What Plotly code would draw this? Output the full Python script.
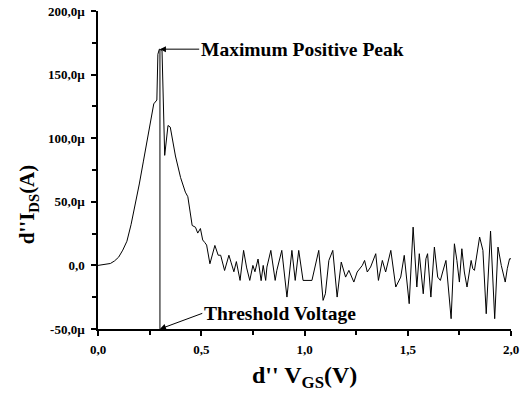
import plotly.graph_objects as go

# d''V_GS (V)
vgs = [0.0, 0.03, 0.06, 0.08, 0.10, 0.12, 0.14, 0.16, 0.18, 0.20, 0.22, 0.24, 0.26, 0.27, 0.285,
       0.29, 0.297, 0.31, 0.323, 0.339, 0.35, 0.375, 0.40, 0.423, 0.435, 0.456, 0.472, 0.483,
       0.496, 0.507, 0.517, 0.526, 0.542, 0.566, 0.582, 0.594, 0.613, 0.634, 0.645, 0.658,
       0.67, 0.688, 0.705, 0.72, 0.735, 0.75, 0.76, 0.775, 0.79, 0.80, 0.812, 0.818, 0.837,
       0.858, 0.866, 0.890, 0.915, 0.939, 0.955, 0.972, 0.993, 1.012, 1.036, 1.069, 1.090,
       1.101, 1.118, 1.137, 1.158, 1.178, 1.199, 1.215, 1.239, 1.255, 1.280, 1.291, 1.304,
       1.320, 1.345, 1.358, 1.377, 1.393, 1.418, 1.442, 1.466, 1.483, 1.507, 1.526, 1.544,
       1.556, 1.575, 1.588, 1.596, 1.612, 1.629, 1.645, 1.658, 1.669, 1.685, 1.710, 1.726,
       1.738, 1.750, 1.762, 1.774, 1.787, 1.807, 1.815, 1.823, 1.848, 1.864, 1.880, 1.901,
       1.921, 1.937, 1.953, 1.972, 1.982, 1.993, 2.0]
# d''I_DS (µA)
ids = [0.0, 0.5, 1.5, 3.5, 6.5, 12, 19, 32, 47, 64, 82, 100, 117, 127, 130,
       166, 170, 169, 86.5, 110, 108.7, 86, 69, 57.6, 54, 31.4, 30, 25.4,
       29, 20, 18, 16, 1.3, 15.7, 8, 8, -4, 8, 2, -5,
       3, -11.8, 11.8, -2, -11.8, 0, -5, 5, -12, 0, -11.8, -1.3, 11.8,
       -11.8, -3.9, 11.8, -24.9, 11.8, -11.8, 11.8, -11.8, -11.8, -11.8, 11.8, -27.5,
       -22.3, 3.9, 11.8, -24.9, 2.6, -9.2, -3.9, -13.1, -5.2, 0, 3.9, -5.2,
       -1.3, 9.2, -11.8, 3.9, -5.2, 11.8, -17, -9.2, 7.9, -30.1, 30.1, -17,
       9.2, -22.3, 5.2, 9.2, -24.9, 14.4, -9.2, -11.8, -5.2, 3.9, -41.9, 17,
       3.9, -13.1, 13.1, -5.2, -17, 3.9, -2.6, -3.9, 22.3, 11.8, -38, 27,
       -41.9, 14.4, 0, -13.1, -2.6, 5.2, 5.2]

threshold_v = 0.30
peak_i = 170
y_bottom = -50

y_ticks = [-50, 0, 50, 100, 150, 200]
y_ticktext = ["-50,0µ", "0,0", "50,0µ", "100,0µ", "150,0µ", "200,0µ"]
x_ticks = [0.0, 0.5, 1.0, 1.5, 2.0]
x_ticktext = ["0,0", "0,5", "1,0", "1,5", "2,0"]

FONT = "Liberation Serif"

fig = go.Figure()
fig.add_trace(go.Scatter(x=vgs, y=ids, mode="lines",
                         line=dict(color="black", width=1), showlegend=False))
fig.add_trace(go.Scatter(x=[threshold_v, threshold_v], y=[y_bottom, peak_i], mode="lines",
                         line=dict(color="black", width=1), showlegend=False))

fig.add_annotation(x=threshold_v, y=peak_i, ax=0.49, ay=peak_i, axref="x", ayref="y",
                   xref="x", yref="y", text="Maximum Positive Peak", xanchor="left",
                   showarrow=True, arrowhead=2, arrowsize=1.2, arrowwidth=1, arrowcolor="black",
                   font=dict(family=FONT, size=19.5, color="black", weight="bold"))
fig.add_annotation(x=threshold_v, y=y_bottom, ax=0.505, ay=-37.7, axref="x", ayref="y",
                   xref="x", yref="y", text="Threshold Voltage", xanchor="left",
                   showarrow=True, arrowhead=2, arrowsize=1.2, arrowwidth=1, arrowcolor="black",
                   font=dict(family=FONT, size=19.5, color="black", weight="bold"))

# axis titles
fig.add_annotation(x=0.5, y=-0.15, xref="paper", yref="paper", text="d'' V<sub>GS</sub>(V)",
                   showarrow=False, xanchor="center", yanchor="middle",
                   font=dict(family=FONT, size=24, color="black", weight="bold"))
fig.add_annotation(x=-0.169, y=0.39, xref="paper", yref="paper", text="d''I<sub>DS</sub>(A)",
                   showarrow=False, xanchor="center", yanchor="middle", textangle=-90,
                   font=dict(family=FONT, size=21, color="black", weight="bold"))

axis_common = dict(showline=True, linecolor="black", linewidth=1.5, ticks="outside",
                   ticklen=5, tickwidth=1.5, tickcolor="black", showgrid=False, zeroline=False,
                   automargin=False,
                   tickfont=dict(family=FONT, size=13, color="black", weight="bold"))

fig.update_xaxes(range=[0, 2.0], tickvals=x_ticks, ticktext=x_ticktext, ticklabelstandoff=3,
                 minor=dict(ticks="outside", ticklen=4, tickwidth=1.5, tickcolor="black", dtick=0.25),
                 **axis_common)
fig.update_yaxes(range=[-50, 200], tickvals=y_ticks, ticktext=y_ticktext, ticklabelstandoff=4,
                 minor=dict(ticks="outside", ticklen=4, tickwidth=1.5, tickcolor="black", dtick=25),
                 **axis_common)

fig.update_layout(width=532, height=396, plot_bgcolor="white", paper_bgcolor="white",
                  margin=dict(l=98, r=21, t=11, b=67, autoexpand=False))

fig.write_html("out.html", config={"displayModeBar": False},
               post_script="document.body.style.margin='0';document.body.style.padding='0';")
